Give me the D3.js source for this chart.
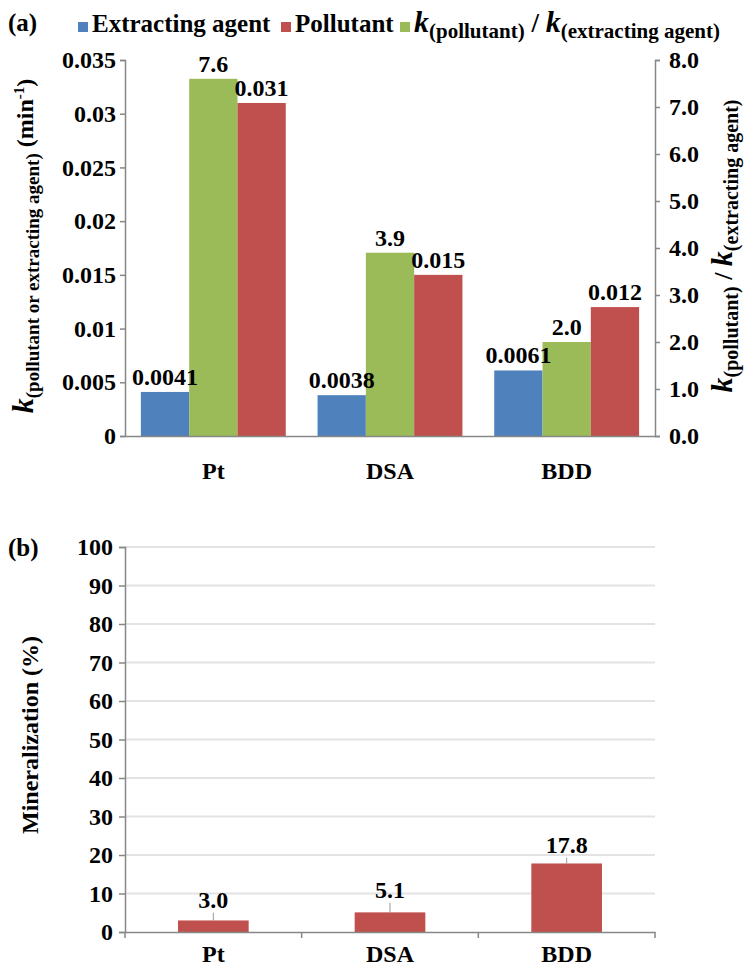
<!DOCTYPE html>
<html>
<head>
<meta charset="utf-8">
<script src="https://cdn.jsdelivr.net/npm/d3@7"></script>
<style>
  body { margin: 0; background: #fff; }
  svg text { font-family: 'Liberation Serif', 'Times New Roman', serif; font-weight: bold; fill: #000; }
</style>
</head>
<body>
<div id="chart"></div>
<script>
const categories = ['Pt', 'DSA', 'BDD']
const extractingAgent = [0.0041, 0.0038, 0.0061]
const extractingLabels = ['0.0041', '0.0038', '0.0061']
const pollutant = [0.031, 0.015, 0.012]
const pollutantLabels = ['0.031', '0.015', '0.012']
const ratio = [7.6, 3.9, 2.0]
const ratioLabels = ['7.6', '3.9', '2.0']
const leftTicks = [0, 0.005, 0.01, 0.015, 0.02, 0.025, 0.03, 0.035]
const leftTickLabels = ['0', '0.005', '0.01', '0.015', '0.02', '0.025', '0.03', '0.035']
const rightTicks = [0, 1, 2, 3, 4, 5, 6, 7, 8]
const mineralization = [3.0, 5.1, 17.8]
const mineralizationErr = [2.0, 2.5, 1.5]
const mineralizationLabels = ['3.0', '5.1', '17.8']
const mineralTicks = [0, 10, 20, 30, 40, 50, 60, 70, 80, 90, 100]

const colors = { ext: '#4f81bd', pol: '#c0504d', ratio: '#9bbb59' }
const axisColor = '#878787'

const width = 744, height = 967
const svg = d3.select('#chart').append('svg')
  .attr('width', width)
  .attr('height', height)

const styleTicks = (g, size) => {
  g.select('.domain').attr('stroke', axisColor).attr('stroke-width', 1.5)
  g.selectAll('.tick line').attr('stroke', axisColor).attr('stroke-width', 1.5)
  g.selectAll('.tick text').attr('font-size', size)
    .style('font-family', "'Liberation Serif', serif").style('font-weight', 'bold').attr('fill', '#000')
}

// ---------- panel (a) ----------
const a = { left: 125, right: 655, top: 60, bottom: 436 }

const x = d3.scaleBand()
  .domain(categories)
  .range([a.left, a.right])
  .paddingInner(0.18)
  .paddingOuter(0.09)

const series = ['ext', 'ratio', 'pol']
const xSub = d3.scaleBand()
  .domain(series)
  .range([0, x.bandwidth()])

const yLeft = d3.scaleLinear().domain([0, 0.035]).range([a.bottom, a.top])
const yRight = d3.scaleLinear().domain([0, 8]).range([a.bottom, a.top])

const rows = categories.map((c, i) => ({
  cat: c,
  bars: [
    { key: 'ext', value: extractingAgent[i], label: extractingLabels[i], y: yLeft },
    { key: 'ratio', value: ratio[i], label: ratioLabels[i], y: yRight },
    { key: 'pol', value: pollutant[i], label: pollutantLabels[i], y: yLeft }
  ]
}))

const groups = svg.append('g').selectAll('g')
  .data(rows)
  .enter()
  .append('g')
    .attr('transform', d => `translate(${x(d.cat)},0)`)

groups.selectAll('rect')
  .data(d => d.bars)
  .enter()
  .append('rect')
    .attr('x', d => xSub(d.key))
    .attr('width', xSub.bandwidth())
    .attr('y', d => d.y(d.value))
    .attr('height', d => a.bottom - d.y(d.value))
    .attr('fill', d => colors[d.key])

groups.selectAll('text')
  .data(d => d.bars)
  .enter()
  .append('text')
    .attr('x', d => xSub(d.key) + xSub.bandwidth() / 2)
    .attr('y', d => d.y(d.value) - 7)
    .attr('text-anchor', 'middle')
    .attr('font-size', '24px')
    .text(d => d.label)

const leftAxis = svg.append('g')
  .attr('transform', `translate(${a.left},0)`)
  .call(d3.axisLeft(yLeft).tickValues(leftTicks)
    .tickFormat((d, i) => leftTickLabels[i]).tickSizeOuter(0).tickSize(5).tickPadding(4))
styleTicks(leftAxis, '24px')

const rightAxis = svg.append('g')
  .attr('transform', `translate(${a.right},0)`)
  .call(d3.axisRight(yRight).tickValues(rightTicks)
    .tickFormat(d3.format('.1f')).tickSizeOuter(0).tickSize(5).tickPadding(9))
styleTicks(rightAxis, '24px')

const bottomAxis = svg.append('g')
  .attr('transform', `translate(0,${a.bottom})`)
  .call(d3.axisBottom(x).tickSize(0).tickPadding(26))
styleTicks(bottomAxis, '24px')

// italic k with a subscript; returns the drop so the caller can come back up
const kTerm = (txt, sub, big, small, drop, dyFirst) => {
  const k = txt.append('tspan').attr('font-style', 'italic').attr('font-size', big).text('k')
  if (dyFirst) k.attr('dy', dyFirst)
  txt.append('tspan').attr('font-size', small).attr('dy', drop).text(sub)
}

// legend
svg.append('text').attr('x', 8).attr('y', 31).attr('font-size', '25px').text('(a)')

const legend = svg.append('g')
const legendItems = [
  { key: 'ext', x: 78 },
  { key: 'pol', x: 281 },
  { key: 'ratio', x: 400 }
]
legend.selectAll('rect')
  .data(legendItems)
  .enter()
  .append('rect')
    .attr('x', d => d.x)
    .attr('y', 22)
    .attr('width', 10)
    .attr('height', 10)
    .attr('fill', d => colors[d.key])

legend.append('text').attr('x', 92).attr('y', 32).attr('font-size', '25px').text('Extracting agent')
legend.append('text').attr('x', 295).attr('y', 32).attr('font-size', '25px').text('Pollutant')
const legK = legend.append('text').attr('x', 414).attr('y', 32).attr('font-size', '25px')
kTerm(legK, '(pollutant)', '30px', '21px', 6)
legK.append('tspan').attr('font-size', '27px').attr('dy', -6).text(' / ')
kTerm(legK, '(extracting agent)', '30px', '21px', 6)

// left axis title
const leftTitle = svg.append('text')
  .attr('transform', 'translate(33,246) rotate(-90)')
  .attr('text-anchor', 'middle')
kTerm(leftTitle, '(pollutant or extracting agent)', '30px', '19px', 6)
leftTitle.append('tspan').attr('font-size', '24px').attr('dy', -6).text(' (min')
leftTitle.append('tspan').attr('font-size', '15px').attr('dy', -9).text('-1')
leftTitle.append('tspan').attr('font-size', '24px').attr('dy', 9).text(')')

// right axis title
const rightTitle = svg.append('text')
  .attr('transform', 'translate(732,246) rotate(-90)')
  .attr('text-anchor', 'middle')
kTerm(rightTitle, '(pollutant)', '30px', '20px', 6)
rightTitle.append('tspan').attr('font-size', '26px').attr('dy', -6).text(' / ')
kTerm(rightTitle, '(extracting agent)', '30px', '20px', 6)

// ---------- panel (b) ----------
const b = { left: 125, right: 655, top: 547, bottom: 932 }

const xb = d3.scaleBand()
  .domain(categories)
  .range([b.left, b.right])
  .paddingInner(0.6)
  .paddingOuter(0.3)

const yb = d3.scaleLinear().domain([0, 100]).range([b.bottom, b.top])

svg.append('text').attr('x', 8).attr('y', 556).attr('font-size', '25px').text('(b)')

svg.append('g').selectAll('line')
  .data(mineralTicks.filter(d => d > 0))
  .enter()
  .append('line')
    .attr('x1', b.left)
    .attr('x2', b.right)
    .attr('y1', d => yb(d))
    .attr('y2', d => yb(d))
    .attr('stroke', '#e3e3e3')
    .attr('stroke-width', 2)

const mRows = categories.map((c, i) => ({
  cat: c, value: mineralization[i], err: mineralizationErr[i], label: mineralizationLabels[i]
}))

svg.append('g').selectAll('rect')
  .data(mRows)
  .enter()
  .append('rect')
    .attr('x', d => xb(d.cat))
    .attr('width', xb.bandwidth())
    .attr('y', d => yb(d.value))
    .attr('height', d => b.bottom - yb(d.value))
    .attr('fill', colors.pol)

// only the upper whisker shows above the bar
svg.append('g').selectAll('line')
  .data(mRows)
  .enter()
  .append('line')
    .attr('x1', d => xb(d.cat) + xb.bandwidth() / 2)
    .attr('x2', d => xb(d.cat) + xb.bandwidth() / 2)
    .attr('y1', d => yb(d.value))
    .attr('y2', d => yb(d.value + d.err))
    .attr('stroke', '#999')
    .attr('stroke-width', 1)

svg.append('g').selectAll('text')
  .data(mRows)
  .enter()
  .append('text')
    .attr('x', d => xb(d.cat) + xb.bandwidth() / 2)
    .attr('y', d => yb(d.value + d.err) - 5)
    .attr('text-anchor', 'middle')
    .attr('font-size', '24px')
    .text(d => d.label)

const bLeft = svg.append('g')
  .attr('transform', `translate(${b.left},0)`)
  .call(d3.axisLeft(yb).tickValues(mineralTicks).tickSizeOuter(0).tickSize(6).tickPadding(6))
styleTicks(bLeft, '24px')

const bBottom = svg.append('g')
  .attr('transform', `translate(0,${b.bottom})`)
  .call(d3.axisBottom(xb).tickSize(0).tickPadding(13))
styleTicks(bBottom, '24px')

// ticks sit on the category boundaries
const step = xb.step()
bBottom.selectAll('.sep')
  .data(d3.range(categories.length + 1))
  .enter()
  .append('line')
    .attr('x1', i => b.left + i * step)
    .attr('x2', i => b.left + i * step)
    .attr('y1', 0)
    .attr('y2', 6)
    .attr('stroke', axisColor)
    .attr('stroke-width', 1.5)

svg.append('text')
  .attr('transform', 'translate(38,735) rotate(-90)')
  .attr('text-anchor', 'middle')
  .attr('font-size', '24px')
  .text('Mineralization (%)')
</script>
</body>
</html>
